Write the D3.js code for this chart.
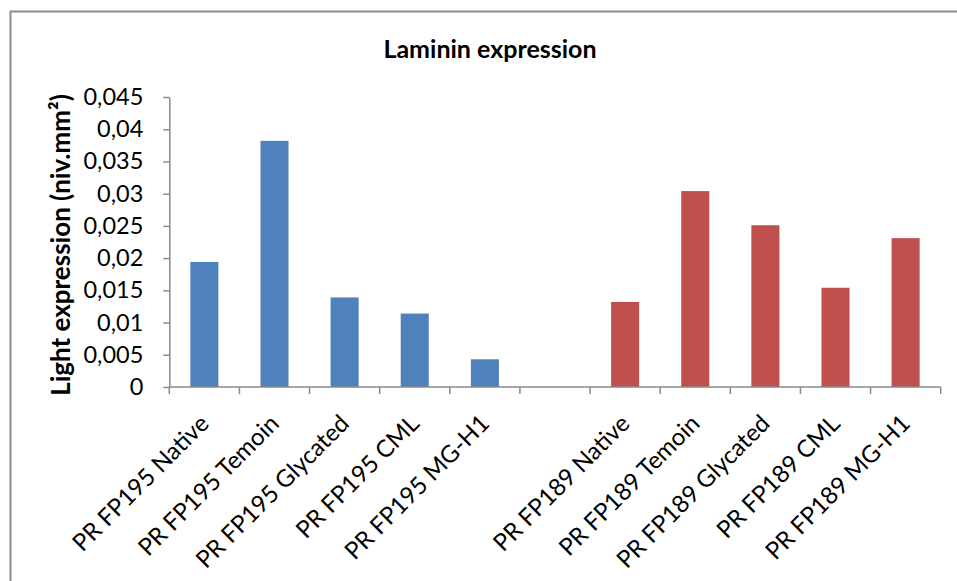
<!DOCTYPE html>
<html>
<head>
<meta charset="utf-8">
<script src="https://cdn.jsdelivr.net/npm/d3@7"></script>
<style>
  html, body { margin: 0; padding: 0; background: #fff; }
  svg { display: block; font-family: Lato, "Open Sans", sans-serif; }
</style>
</head>
<body>
<svg id="chart" width="957" height="581"></svg>
<script>
// Categories along the x axis (one empty slot separates the two groups)
const categories = [
  "PR FP195 Native", "PR FP195 Temoin", "PR FP195 Glycated", "PR FP195 CML", "PR FP195 MG-H1",
  "",
  "PR FP189 Native", "PR FP189 Temoin", "PR FP189 Glycated", "PR FP189 CML", "PR FP189 MG-H1"
];
// Series values
const fp195Values = [0.0194, 0.0382, 0.0139, 0.0114, 0.0043];
const fp189Values = [0.0132, 0.0304, 0.0251, 0.0154, 0.0231];
const fp195Cats = categories.slice(0, 5);
const fp189Cats = categories.slice(6);
// Y tick values
const yTicks = [0, 0.005, 0.01, 0.015, 0.02, 0.025, 0.03, 0.035, 0.04, 0.045];

const title = "Laminin expression";
const yTitle = "Light expression (niv.mm²)";

const svg = d3.select("#chart");
const plotLeft = 169.3, plotRight = 940.7, plotTop = 97, plotBottom = 387;
const axisColor = "#8a8a8a";

// Outer chart frame
svg.append("rect")
  .attr("x", 10.5).attr("y", 11.5)
  .attr("width", 1000).attr("height", 700)
  .attr("fill", "none").attr("stroke", "#8c8c8c").attr("stroke-width", 2);

const x = d3.scaleBand().domain(categories.map((c, i) => i))
  .range([plotLeft, plotRight]).paddingInner(0.6).paddingOuter(0.3);
const y = d3.scaleLinear().domain([0, 0.045]).range([plotBottom, plotTop]);

// Bars
const series = [
  { cats: fp195Cats, values: fp195Values, color: "#4f81bd" },
  { cats: fp189Cats, values: fp189Values, color: "#c0504d" }
];
series.forEach(s => {
  svg.append("g").selectAll("rect")
    .data(s.values)
    .join("rect")
    .attr("x", (d, i) => x(categories.indexOf(s.cats[i])))
    .attr("width", x.bandwidth())
    .attr("y", d => y(d))
    .attr("height", d => y(0) - y(d))
    .attr("fill", s.color);
});

// Y axis
const fmt = d => String(d).replace(".", ",");
const yAxis = svg.append("g")
  .attr("transform", `translate(${plotLeft},0)`)
  .call(d3.axisLeft(y).tickValues(yTicks).tickFormat(fmt).tickSize(6).tickSizeOuter(0).tickPadding(20));
yAxis.select(".domain").attr("stroke", axisColor).attr("stroke-width", 1.5);
yAxis.selectAll(".tick line").attr("stroke", axisColor).attr("stroke-width", 1.5);
yAxis.selectAll(".tick text")
  .attr("fill", "#000").attr("font-size", 23.5).attr("font-family", "Lato, sans-serif");

// X axis: ticks at category boundaries
const step = x.step();
const boundaries = d3.range(categories.length + 1).map(i => plotLeft + i * step);
svg.append("line")
  .attr("x1", plotLeft).attr("x2", plotRight)
  .attr("y1", plotBottom).attr("y2", plotBottom)
  .attr("stroke", axisColor).attr("stroke-width", 1.5);
svg.append("g").selectAll("line")
  .data(boundaries)
  .join("line")
  .attr("x1", d => d).attr("x2", d => d)
  .attr("y1", plotBottom).attr("y2", plotBottom + 7)
  .attr("stroke", axisColor).attr("stroke-width", 1.5);

// Rotated category labels
svg.append("g").selectAll("text")
  .data(categories.map((c, i) => ({ c, i })).filter(d => d.c))
  .join("text")
  .attr("transform", d => `translate(${x(d.i) + x.bandwidth() / 2 + 6},425) rotate(-45)`)
  .attr("text-anchor", "end")
  .attr("font-size", 24)
  .attr("fill", "#000")
  .text(d => d.c);

// Chart title
svg.append("text")
  .attr("x", 490).attr("y", 58)
  .attr("text-anchor", "middle")
  .attr("font-size", 25).attr("font-weight", "bold")
  .text(title);

// Y axis title
svg.append("text")
  .attr("transform", `translate(70,245) rotate(-90)`)
  .attr("text-anchor", "middle")
  .attr("font-size", 26).attr("font-weight", "bold")
  .text(yTitle);
</script>
</body>
</html>
